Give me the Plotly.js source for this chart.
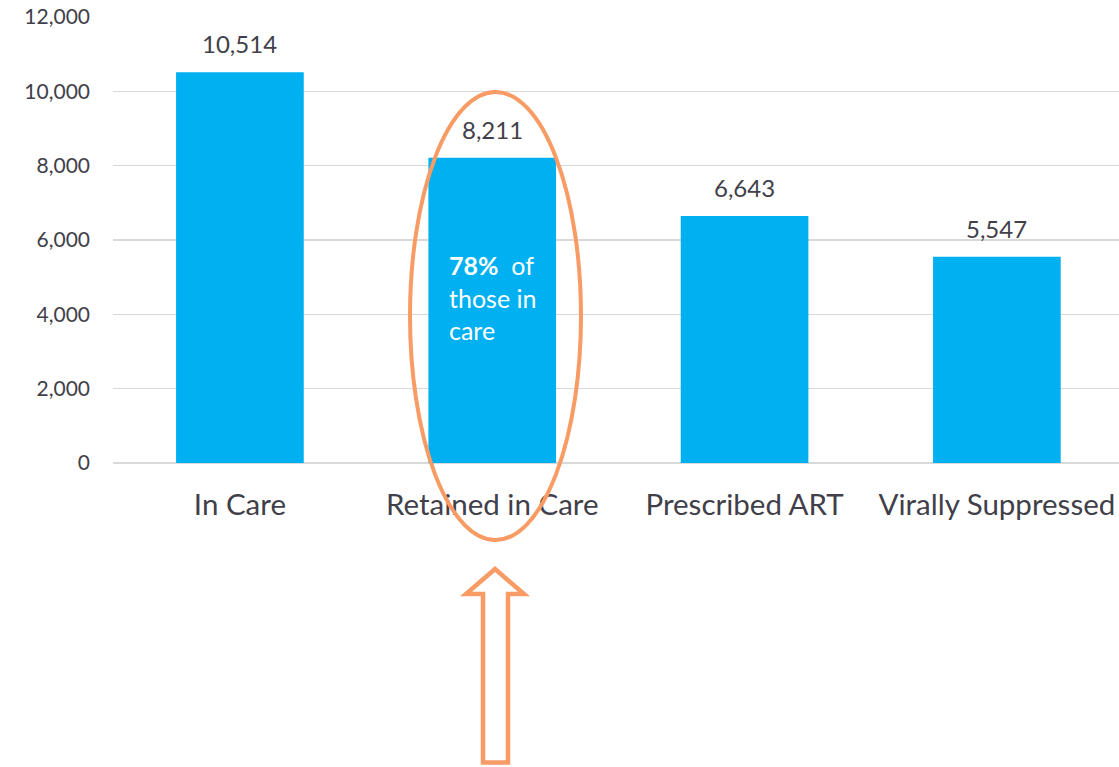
<!DOCTYPE html>
<html>
<head>
<meta charset="utf-8">
<script src="https://cdn.plot.ly/plotly-3.0.1.min.js"></script>
<style>html,body{margin:0;padding:0;background:#fff;}#chart{width:1119px;height:767px;}</style>
</head>
<body>
<div id="chart"></div>
<script>
var categories = ["In Care", "Retained in Care", "Prescribed ART", "Virally Suppressed"];
var values = [10514, 8211, 6643, 5547];
var valueLabels = ["10,514", "8,211", "6,643", "5,547"];
var tickVals = [0, 2000, 4000, 6000, 8000, 10000, 12000];
var tickText = ["0", "2,000", "4,000", "6,000", "8,000", "10,000", "12,000"];
var noteCategory = "Retained in Care";
var noteText = "<b>78%</b>  of<br>those in<br>care";

var W = 1119, H = 767;
var mL = 113, mR = 0, mT = 17, mB = 304;
var pw = W - mL - mR, ph = H - mT - mB;
function px(x) { return (x - mL) / pw; }
function py(y) { return (H - mB - y) / ph; }

var textColor = "#3f4049";
var orange = "#F89B64";

var annotations = categories.map(function (c, i) {
  return {
    x: c, y: values[i], xref: "x", yref: "y",
    text: valueLabels[i], showarrow: false,
    yanchor: "bottom", yshift: 12,
    font: {family: "Lato, sans-serif", size: 24, color: textColor}
  };
});
annotations.push({
  x: noteCategory, y: 6000, xref: "x", yref: "y",
  text: noteText, showarrow: false, align: "left",
  xanchor: "left", yanchor: "top", xshift: -45, yshift: -8,
  font: {family: "Lato, sans-serif", size: 25, color: "#ffffff"}
});

var arrowPts = [[495,569],[524,594],[508,594],[508,762.5],[483,762.5],[483,594],[466,594]];
var arrowPath = arrowPts.map(function (p, i) {
  return (i === 0 ? "M" : "L") + px(p[0]).toFixed(5) + "," + py(p[1]).toFixed(5);
}).join(" ") + " Z";

var layout = {
  width: W, height: H,
  margin: {l: mL, r: mR, t: mT, b: mB, pad: 0},
  paper_bgcolor: "#ffffff", plot_bgcolor: "#ffffff",
  showlegend: false,
  bargap: 0.494,
  font: {family: "Lato, sans-serif", color: textColor},
  xaxis: {
    type: "category", range: [-0.503, 3.484],
    showgrid: false, showline: false, zeroline: false, ticks: "",
    tickfont: {family: "Lato, sans-serif", size: 29.5, color: textColor},
    ticklabelstandoff: 21, fixedrange: true
  },
  yaxis: {
    range: [0, 12000], tickvals: tickVals, ticktext: tickText,
    showgrid: true, gridcolor: "#d9d9d9", gridwidth: 1.5,
    zeroline: true, zerolinecolor: "#d9d9d9", zerolinewidth: 2,
    showline: false, ticks: "",
    tickfont: {family: "Lato, sans-serif", size: 21, color: textColor},
    ticklabelstandoff: 22, fixedrange: true
  },
  annotations: annotations,
  shapes: [
    {type: "circle", xref: "paper", yref: "paper",
     x0: px(410), x1: px(581), y0: py(540), y1: py(92),
     line: {color: orange, width: 4}, layer: "above"},
    {type: "path", xref: "paper", yref: "paper", path: arrowPath,
     line: {color: orange, width: 4.5}, layer: "above"}
  ]
};

var data = [{
  type: "bar", x: categories, y: values,
  marker: {color: "#00B0F0"},
  hoverinfo: "none"
}];

Plotly.newPlot("chart", data, layout, {staticPlot: true, displayModeBar: false});
</script>
</body>
</html>
